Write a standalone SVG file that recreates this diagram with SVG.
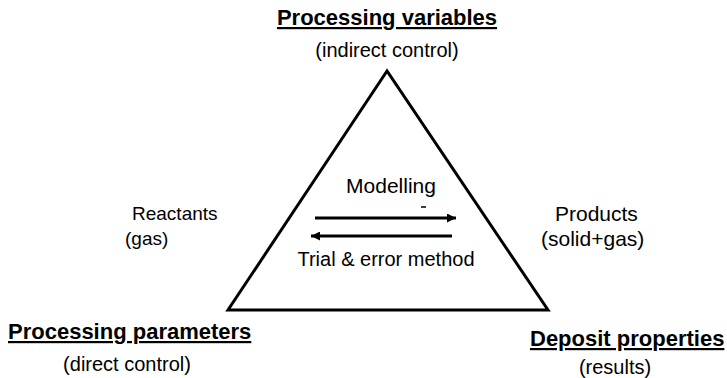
<svg xmlns="http://www.w3.org/2000/svg" width="727" height="378" viewBox="0 0 727 378">
<style>
text{font-family:"Liberation Sans",Arial,sans-serif;fill:#000;font-size:20px}
.h{font-weight:bold;font-size:22px;text-decoration:underline}
.m{text-anchor:middle}
.l{font-size:21px}
.s{font-size:19px}
</style>
<defs>
<marker id="ah" viewBox="0 0 10 10" refX="10" refY="5" markerWidth="7" markerHeight="3" markerUnits="strokeWidth" orient="auto">
<path d="M0,0 L10,5 L0,10 Z" fill="#000"/>
</marker>
</defs>
<rect width="727" height="378" fill="#fff"/>
<g id="triangle">
<polygon points="387,71 228,310 548,310" fill="none" stroke="#000" stroke-width="3"/>
</g>
<g id="connectors">
<line x1="315" y1="218" x2="456" y2="218" stroke="#000" stroke-width="3" marker-end="url(#ah)"/>
<line x1="452" y1="236" x2="311" y2="236" stroke="#000" stroke-width="3" marker-end="url(#ah)"/>
<line x1="421" y1="207" x2="426" y2="207" stroke="#000" stroke-width="1.5"/>
</g>
<g id="top">
<text class="h m" x="387" y="25">Processing variables</text>
<text class="m" x="387" y="57">(indirect control)</text>
</g>
<g id="left">
<text class="h" x="8" y="339">Processing parameters</text>
<text class="m" x="127" y="371">(direct control)</text>
</g>
<g id="right">
<text class="h" x="530" y="346">Deposit properties</text>
<text class="m" x="615" y="374">(results)</text>
</g>
<g id="reactants">
<text class="s" x="132" y="220">Reactants</text>
<text class="s" x="125" y="245">(gas)</text>
</g>
<g id="products">
<text class="l" x="555" y="221">Products</text>
<text class="l" x="541" y="246">(solid+gas)</text>
</g>
<g id="middle">
<text class="m l" x="391" y="193">Modelling</text>
<text class="m" x="386" y="266">Trial &amp; error method</text>
</g>
</svg>
